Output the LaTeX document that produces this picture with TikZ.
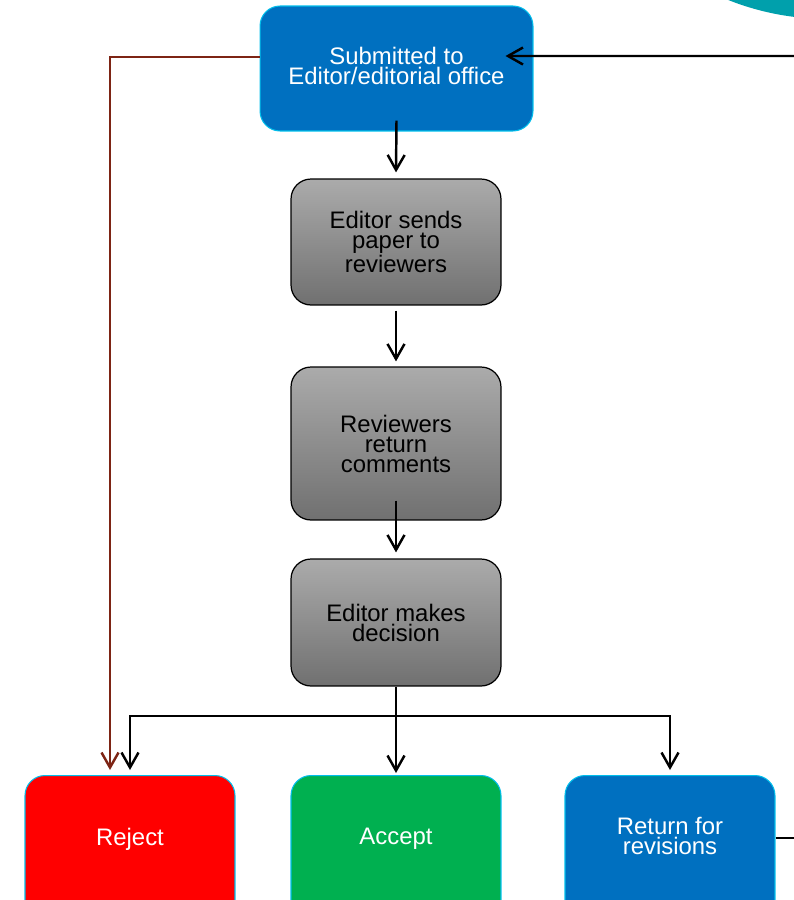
\documentclass[tikz,border=0pt]{standalone}
\usepackage{fontspec}
\setmainfont{Liberation Sans}
\usetikzlibrary{arrows.meta}
\definecolor{boxblue}{RGB}{0,112,192}
\definecolor{boxcyan}{RGB}{0,190,235}
\definecolor{boxgreen}{RGB}{0,176,80}
\definecolor{rejectline}{RGB}{125,36,20}
\definecolor{cornerteal}{RGB}{0,160,172}
\tikzset{
  box/.style={rounded corners=0.4cm, minimum width=4.2cm, align=center, inner sep=0pt,
    font=\fontsize{13.6}{11.4}\selectfont},
  greybox/.style={box, draw=black, line width=0.7pt, top color=black!33, bottom color=black!56},
  endbox/.style={box, draw=boxcyan, line width=0.6pt, minimum height=3cm, anchor=north},
  endtext/.style={box, text=white},
  flow/.style={line width=1.4pt, -{Straight Barb[length=3mm,width=3.4mm]}},
}

\begin{document}
\begin{tikzpicture}[x=0.02cm,y=-0.02cm]
    \useasboundingbox (0,0) rectangle (794,900);
    \clip (0,0) rectangle (794,900);
    % Corner
    \fill[cornerteal] (827.6,-250) circle [radius=5.38cm];
    % Steps
    \node[box, draw=boxcyan, line width=0.6pt, fill=boxblue, text=white, minimum width=5.46cm, minimum height=2.5cm, text depth=0.12cm] (sub) at (396.5,68.5) {Submitted to\\Editor/editorial office};
    \node[greybox, minimum height=2.52cm] (send) at (396,242) {Editor sends\\paper to\\reviewers};
    \node[greybox, minimum height=3.06cm] (rev) at (396,443.5) {Reviewers\\return\\comments};
    \node[greybox, minimum height=2.54cm] (dec) at (396,622.5) {Editor makes\\decision};
    % Outcomes
    \node[endbox, fill=red] (rej) at (130,775) {};
    \node[endtext] (rejtxt) at (130,839) {Reject};
    \node[endbox, fill=boxgreen] (acc) at (396,775) {};
    \node[endtext] (acctxt) at (396,839) {Accept};
    \node[endbox, fill=boxblue] (ret) at (670,775) {};
    \node[endtext] (rettxt) at (670,836) {Return for\\revisions};
    % Arrows
    \draw[flow] ([yshift=0.22cm]sub.south) -- ([yshift=0.12cm]send.north);
    \draw[flow] ([yshift=-0.1cm]send.south) -- ([yshift=0.1cm]rev.north);
    \draw[flow] ([yshift=0.4cm]rev.south) -- ([yshift=0.12cm]dec.north);
    \draw[flow] (dec.south) -- ([yshift=0.04cm]acc.north);
    \coordinate (split) at (396,716);
    \draw[flow] (split) -| ([yshift=0.1cm]rej.north);
    \draw[flow] (split) -| ([yshift=0.1cm]ret.north);
    \draw[flow, rejectline] ([yshift=0.23cm]sub.west) -| ([xshift=-0.4cm,yshift=0.1cm]rej.north);
    \coordinate (back) at (794,56);
    \draw[flow] (back) -- ([xshift=-0.56cm,yshift=0.25cm]sub.east);
    \coordinate (out) at (794,838);
    \draw[line width=1.4pt] (ret.east |- out) -- (out);
\end{tikzpicture}
\end{document}
